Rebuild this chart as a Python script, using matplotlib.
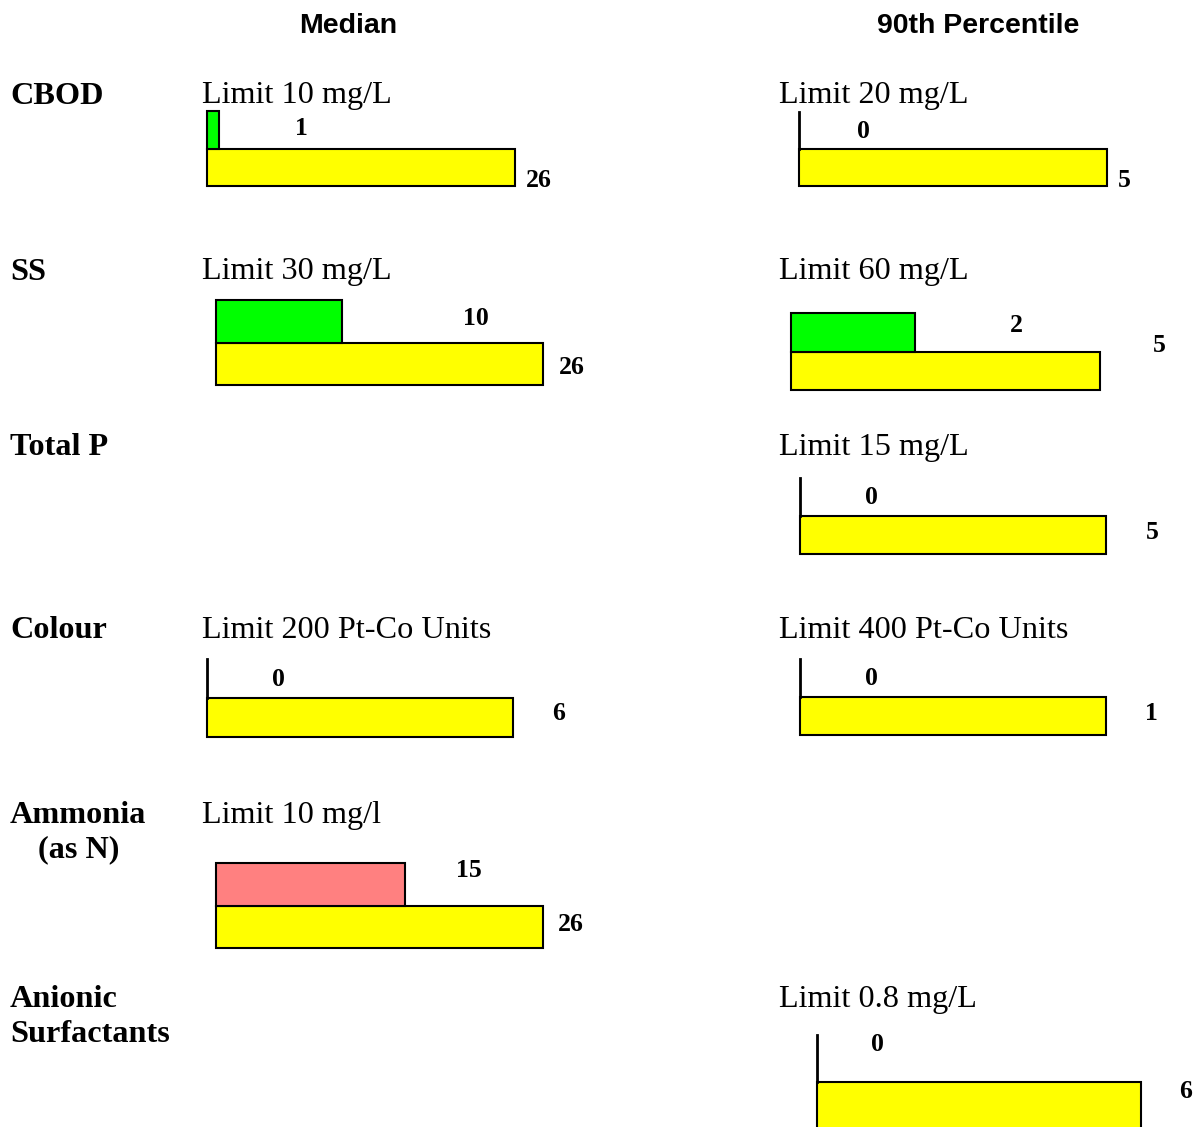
import matplotlib
matplotlib.use('Agg')
import matplotlib.pyplot as plt

W, H = 1203, 1127

# data
metrics = ['CBOD', 'SS', 'Total P', 'Colour', 'Ammonia\n(as N)', 'Anionic\nSurfactants']
metric_align = ['left', 'left', 'left', 'left', 'center', 'left']
row_y = [93, 269, 444, 627, 812, 996]

median_limits = ['Limit 10 mg/L', 'Limit 30 mg/L', None, 'Limit 200 Pt-Co Units', 'Limit 10 mg/l', None]
median_values = [1, 10, None, 0, 15, None]
median_samples = [26, 26, None, 6, 26, None]
median_colors = ['#00FF00', '#00FF00', None, '#00FF00', '#FF8080', None]

p90_limits = ['Limit 20 mg/L', 'Limit 60 mg/L', 'Limit 15 mg/L', 'Limit 400 Pt-Co Units', None, 'Limit 0.8 mg/L']
p90_values = [0, 2, 0, 0, None, 0]
p90_samples = [5, 5, 5, 1, None, 6]
p90_colors = ['#00FF00', '#00FF00', '#00FF00', '#00FF00', None, '#00FF00']

# layout: axes box in pixels (left, top, right, bottom), label spots in axes fraction
median_boxes = [(207, 111, 515, 186), (216, 300, 543, 385), None,
                (207, 659, 513, 737), (216, 863, 543, 948), None]
median_vpos = [(0.305, 0.773), (0.795, 0.783), None, (0.232, 0.731), (0.774, 0.916), None]
median_npos = [(1.078, 0.067), (1.089, 0.205), None, (1.150, 0.295), (1.086, 0.277), None]

p90_boxes = [(799, 112, 1107, 186), (791, 313, 1100, 390), (800, 478, 1106, 554),
             (800, 659, 1106, 735), None, (817, 1035, 1141, 1129)]
p90_vpos = [(0.208, 0.743), (0.728, 0.844), (0.232, 0.75), (0.232, 0.737), None, (0.185, 0.904)]
p90_npos = [(1.055, 0.081), (1.191, 0.584), (1.150, 0.289), (1.150, 0.289), None, (1.136, 0.402)]

SERIF = 'Liberation Serif'
SANS = 'Liberation Sans'

fig = plt.figure(figsize=(W / 100, H / 100), dpi=100)


def fx(px):
    return px / W


def fy(py):
    return 1 - py / H


fig.text(fx(348), fy(26), 'Median', ha='center', va='center',
         fontsize=20.5, fontweight='bold', family=SANS)
fig.text(fx(978), fy(26), '90th Percentile', ha='center', va='center',
         fontsize=20.5, fontweight='bold', family=SANS)

for name, al, y in zip(metrics, metric_align, row_y):
    fig.text(fx(10), fy(y - 11), name, ha='left', va='top', multialignment=al,
             fontsize=23.2, fontweight='bold', family=SERIF, linespacing=1.25)


def panel(box, value, total, color, vpos, npos):
    x0, t, x1, b = box
    ax = fig.add_axes([fx(x0), fy(b), (x1 - x0) / W, (b - t) / H])
    ax.barh([0.5], [total], height=1, left=0, color='#FFFF00',
            edgecolor='black', linewidth=1.5, clip_on=False)
    if value > 0:
        ax.barh([1.5], [value], height=1, left=0, color=color,
                edgecolor='black', linewidth=1.5, clip_on=False)
    else:
        ax.plot([0, 0], [1, 2], color='black', linewidth=2, clip_on=False)
    ax.set_xlim(0, total)
    ax.set_ylim(0, 2)
    ax.axis('off')
    ax.text(vpos[0], vpos[1], str(value), transform=ax.transAxes, ha='center',
            va='center', fontsize=18.5, fontweight='bold', family=SERIF)
    ax.text(npos[0], npos[1], str(total), transform=ax.transAxes, ha='center',
            va='center', fontsize=18.5, fontweight='bold', family=SERIF)


for i in range(len(metrics)):
    if median_limits[i]:
        fig.text(fx(202), fy(row_y[i] + 3), median_limits[i], ha='left', va='center',
                 fontsize=23.2, family=SERIF)
    if median_boxes[i]:
        panel(median_boxes[i], median_values[i], median_samples[i],
              median_colors[i], median_vpos[i], median_npos[i])
    if p90_limits[i]:
        fig.text(fx(779), fy(row_y[i] + 3), p90_limits[i], ha='left', va='center',
                 fontsize=23.2, family=SERIF)
    if p90_boxes[i]:
        panel(p90_boxes[i], p90_values[i], p90_samples[i],
              p90_colors[i], p90_vpos[i], p90_npos[i])

fig.savefig('out.png', dpi=100)
